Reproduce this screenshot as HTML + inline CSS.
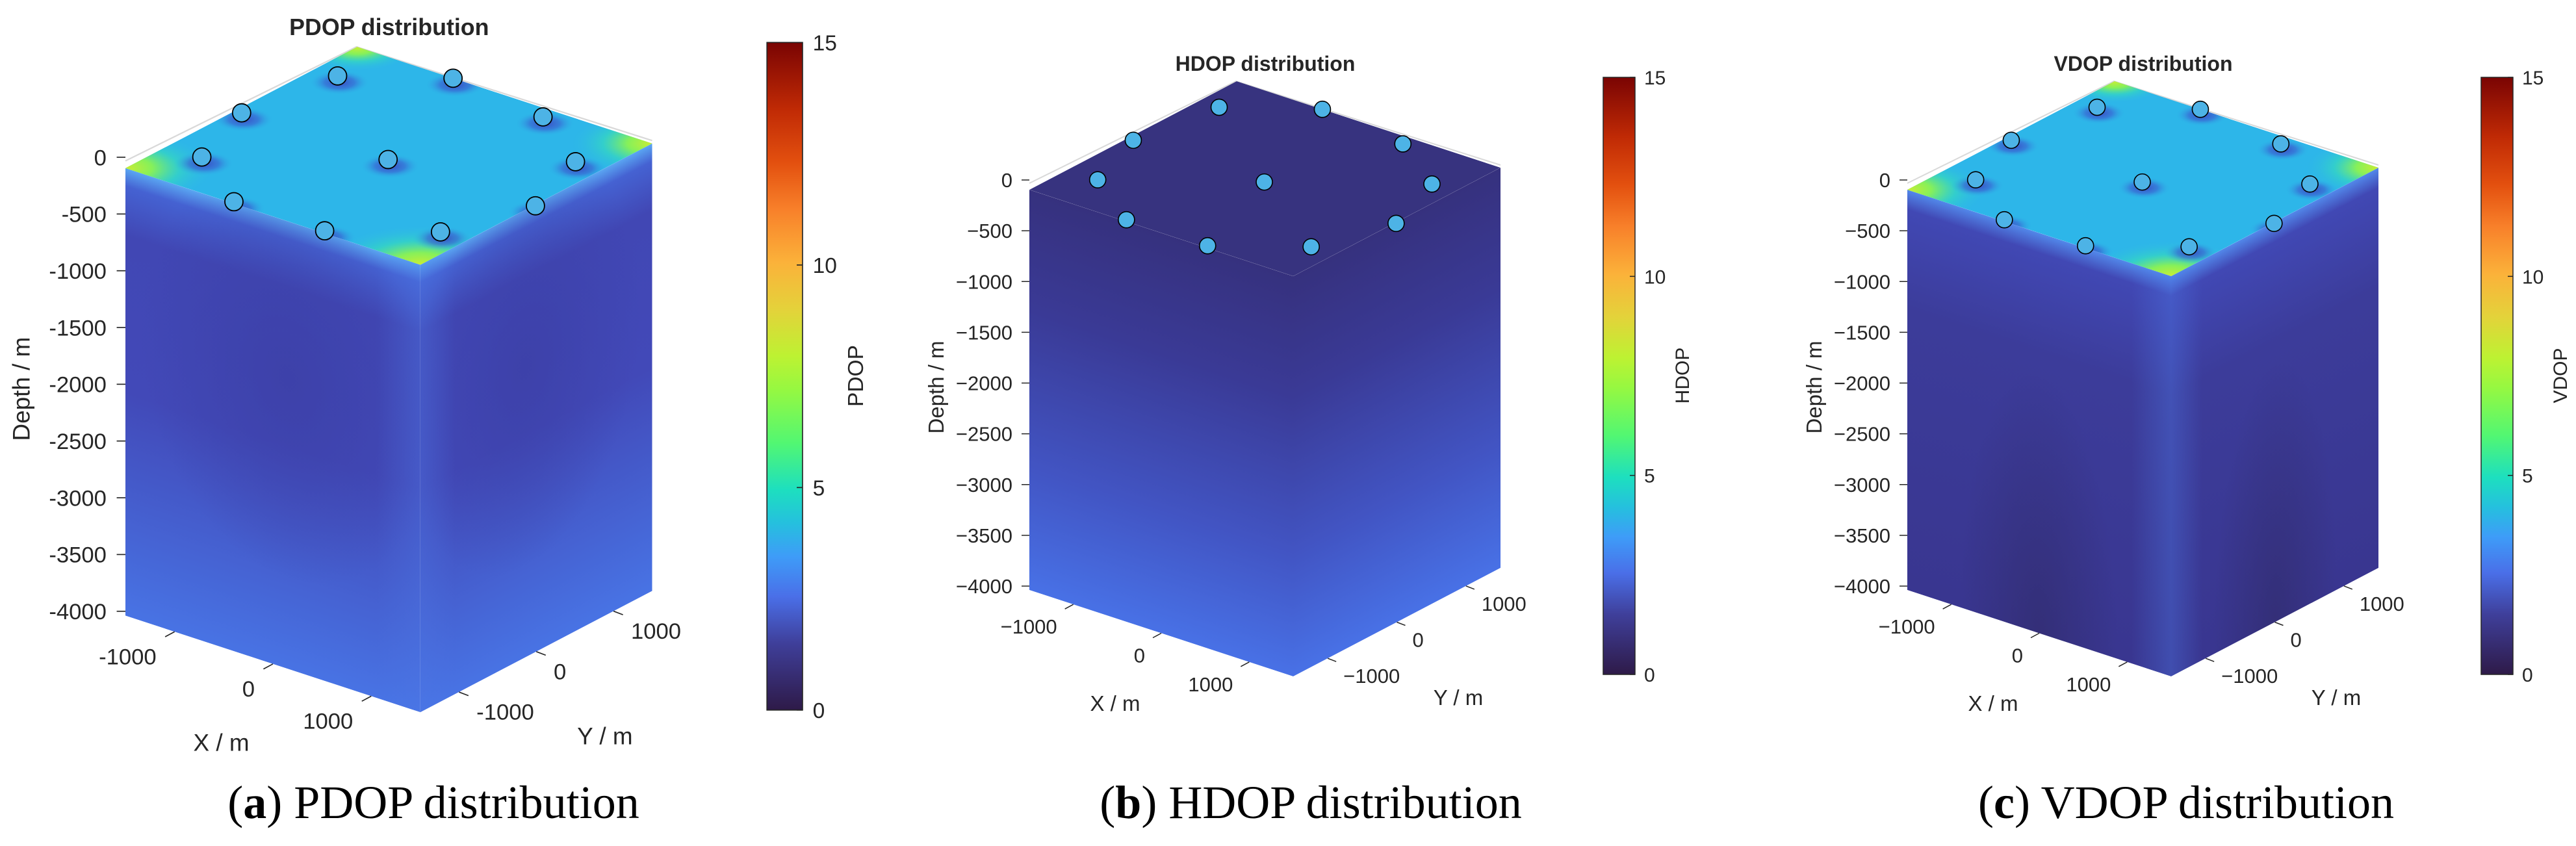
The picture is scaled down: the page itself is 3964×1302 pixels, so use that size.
<!DOCTYPE html>
<html>
<head>
<meta charset="utf-8">
<style>
html,body{margin:0;padding:0;background:#fff;width:3964px;height:1302px;overflow:hidden;}
#root{position:relative;width:3964px;height:1302px;overflow:hidden;background:#fff;}
svg text{font-family:"Liberation Sans",Arial,sans-serif;fill:#262626;}
.cap{position:absolute;top:1195px;line-height:80px;font-family:"Liberation Serif",serif;font-size:72px;color:#000;white-space:nowrap;transform:translateX(-50%);}
</style>
</head>
<body>
<div id="root">
<svg id="chart" width="3964" height="1302" viewBox="0 0 3964 1302" xmlns="http://www.w3.org/2000/svg" style="position:absolute;left:0;top:0;overflow:hidden"></svg>
<div class="cap" style="left:667px">(<b>a</b>) PDOP distribution</div>
<div class="cap" style="left:2017px">(<b>b</b>) HDOP distribution</div>
<div class="cap" style="left:3364px">(<b>c</b>) VDOP distribution</div>
</div>
<script>
// ---- data ----
const stationX = [-1275, -525, 500, -1434, -1155, 40, 1239, -420, 495, 1233, 1515];
const stationY = [960, 1500, 1360, -80, -950, -60, 840, -1470, -1460, -900, -30];
const depthTicks = [0, -500, -1000, -1500, -2000, -2500, -3000, -3500, -4000];
const xTicks = [-1000, 0, 1000];
const yTicks = [-1000, 0, 1000];
const cbTicks = [0, 5, 10, 15];
const cbMax = 15;
const panelNames = ['PDOP', 'HDOP', 'VDOP'];

const NS = 'http://www.w3.org/2000/svg';
const svg = document.getElementById('chart');
function mk(tag, attrs, parent) {
  const e = document.createElementNS(NS, tag);
  for (const k in attrs) e.setAttribute(k, attrs[k]);
  if (parent) parent.appendChild(e);
  return e;
}
const L = [0, 15], F = [406, 148], R = [725, -19], H = 616;
function uOf(X) { return (X + 1500) / 3000; }
function vOf(Y) { return (Y + 1500) / 3000; }
function proj(X, Y, D) {
  const u = uOf(X), v = vOf(Y);
  return [L[0] + u * (F[0] - L[0]) + v * (R[0] - F[0]),
          L[1] + u * (F[1] - L[1]) + v * (R[1] - F[1]) + (-D) / 4000 * H];
}
function depthY(d) { return (-d) / 4000 * 625; }

const defs = mk('defs', {}, svg);
const unitClip = mk('clipPath', {id: 'unitClip'}, defs);
mk('rect', {x: 0, y: 0, width: 100, height: 100}, unitClip);
const cbStops = [[0,'#2e1a48'],[0.1,'#3f3f9a'],[0.17,'#4a6fe8'],[0.23,'#3e9cf8'],[0.28,'#25c0de'],[0.33,'#1ddfbf'],[0.4,'#52f772'],[0.48,'#96f841'],[0.53,'#bdf232'],[0.6,'#e4d23a'],[0.67,'#fbb23a'],[0.75,'#f8802a'],[0.82,'#e3500f'],[0.9,'#c02a05'],[1,'#7a0403']];
function lin(id, stops, x1, y1, x2, y2) {
  const g = mk('linearGradient', {id: id, x1: x1, y1: y1, x2: x2, y2: y2}, defs);
  stops.forEach(s => mk('stop', {offset: s[0], 'stop-color': s[1], 'stop-opacity': s[2] === undefined ? 1 : s[2]}, g));
}
function rad(id, stops) {
  const g = mk('radialGradient', {id: id}, defs);
  stops.forEach(s => mk('stop', {offset: s[0], 'stop-color': s[1], 'stop-opacity': s[2] === undefined ? 1 : s[2]}, g));
}
lin('cbgrad', cbStops.map(s => [1 - s[0], s[1]]).reverse(), 0, 0, 0, 1);
rad('cornerG', [[0,'#c9ee34'],[0.3,'#86f05a'],[0.6,'#35d8c0',0.7],[1,'#2db6e9',0]]);
rad('spotG', [[0,'#3a48c0',0.95],[0.5,'#3a5ad0',0.6],[1,'#2db6e9',0]]);
rad('blobA', [[0,'#3b3ea4',0.7],[1,'#3b3ea4',0]]);
rad('archC', [[0,'#302a68',0.6],[1,'#302a68',0]]);
lin('sideA', [[0,'#5aa6f2'],[0.04,'#4562d2'],[0.15,'#4147b4'],[0.5,'#4249b8'],[1,'#4873e4']], 0, 0, 0, 1);
lin('sideB', [[0,'#36317e'],[0.3,'#3a3a96'],[0.7,'#4255c4'],[1,'#4871e6']], 0, 0, 0, 1);
lin('sideC', [[0,'#5288ea'],[0.05,'#4148b4'],[0.3,'#3c3c9a'],[1,'#393690']], 0, 0, 0, 1);
lin('frontEdge', [[0,'#4d7ae8',0],[0.85,'#4d7ae8',0],[1,'#4d7ae8',0.35]], 0, 0, 1, 0);
lin('frontEdgeR', [[0,'#4d7ae8',0.35],[0.15,'#4d7ae8',0],[1,'#4d7ae8',0]], 0, 0, 1, 0);

const panels = [
  {ox: 193, oy: 242, s: 1.118, mode: 'a', minus: '-'},
  {ox: 1584, oy: 277, s: 1, mode: 'b', minus: '\u2212'},
  {ox: 2935, oy: 277, s: 1, mode: 'c', minus: '\u2212'}
];
function fmt(v, m) { return v < 0 ? m + Math.abs(v) : String(v); }

panels.forEach((p, pi) => {
  const name = panelNames[pi];
  const g = mk('g', {transform: `translate(${p.ox},${p.oy}) scale(${p.s})`}, svg);
  
  

  const bx = mk('polyline', {points: `0,5 318,-152 725,-23`, fill: 'none', stroke: '#d9d9d9', 'stroke-width': 2}, g);
  
  

  const sideFill = p.mode === 'a' ? 'url(#sideA)' : p.mode === 'b' ? 'url(#sideB)' : 'url(#sideC)';
  const lf = mk('g', {transform: `matrix(4.06,1.33,0,${H/100},0,15)`}, g);
  
  
  const rf = mk('g', {transform: `matrix(3.19,-1.67,0,${H/100},406,148)`}, g);
  
  
  [lf, rf].forEach((f, fi) => {
    const fc = mk('g', {'clip-path': 'url(#unitClip)'}, f);
    mk('rect', {x: 0, y: 0, width: 100, height: 100, fill: sideFill}, fc);
    if (p.mode === 'a') {
      mk('ellipse', {cx: fi === 0 ? 55 : 45, cy: 35, rx: 50, ry: 45, fill: 'url(#blobA)'}, fc);
    }
    if (p.mode === 'c') {
      mk('ellipse', {cx: 50, cy: 100, rx: 30, ry: 65, fill: 'url(#archC)'}, fc);
    }
    if (p.mode !== 'b') mk('rect', {x: 0, y: 0, width: 100, height: 100, fill: fi === 0 ? 'url(#frontEdge)' : 'url(#frontEdgeR)'}, fc);
  });

  const tf = mk('g', {transform: `matrix(4.06,1.33,3.19,-1.67,0,15)`}, g);
  
  
  const tfi = mk('g', {'clip-path': 'url(#unitClip)'}, tf);
  if (p.mode === 'b') {
    mk('rect', {x: 0, y: 0, width: 100, height: 100, fill: '#37337f'}, tfi);
  } else {
    mk('rect', {x: 0, y: 0, width: 100, height: 100, fill: '#2db6e9'}, tfi);
    [[0,0,24],[100,0,26],[100,100,22],[0,100,16]].forEach(c => {
      mk('circle', {cx: c[0], cy: c[1], r: c[2], fill: 'url(#cornerG)'}, tfi);
    });
    stationX.forEach((sx, i) => {
      const u = uOf(sx) * 100, v = vOf(stationY[i]) * 100;
      const sp = mk('circle', {cx: u + 3, cy: v - 3, r: 8, fill: 'url(#spotG)'}, tfi);
      
      
    });
  }

  stationX.forEach((sx, i) => {
    const q = proj(sx, stationY[i], 0);
    const c = mk('circle', {cx: q[0], cy: q[1], r: 12.5, fill: '#4db3e6', stroke: '#000', 'stroke-width': 1.6}, g);
    
    
  });

  depthTicks.forEach(d => {
    const y = depthY(d);
    const t = mk('line', {x1: -12, y1: y, x2: 0, y2: y, stroke: '#262626', 'stroke-width': 1.5}, g);
    
    
    const tx = mk('text', {x: -26, y: y + 11, 'font-size': 31, 'text-anchor': 'end'}, g);
    tx.textContent = fmt(d, p.minus);
    
    
  });
  const dl = mk('text', {x: 0, y: 0, 'font-size': 33, 'text-anchor': 'middle', transform: `translate(-132,319) rotate(-90)`}, g);
  dl.textContent = 'Depth / m';
  
  

  xTicks.forEach(xv => {
    const q = proj(xv, -1500, -4000);
    const t = mk('line', {x1: q[0], y1: q[1], x2: q[0] - 13, y2: q[1] + 7, stroke: '#262626', 'stroke-width': 1.5}, g);
    
    
    const tx = mk('text', {x: q[0] - 25, y: q[1] + 45, 'font-size': 31, 'text-anchor': 'end'}, g);
    tx.textContent = fmt(xv, p.minus);
    
    
  });
  const xl = mk('text', {x: 132, y: 817, 'font-size': 33, 'text-anchor': 'middle'}, g);
  xl.textContent = 'X / m';
  
  

  yTicks.forEach(yv => {
    const q = proj(1500, yv, -4000);
    const t = mk('line', {x1: q[0], y1: q[1], x2: q[0] + 13, y2: q[1] + 5, stroke: '#262626', 'stroke-width': 1.5}, g);
    
    
    const tx = mk('text', {x: q[0] + 24, y: q[1] + 38, 'font-size': 31, 'text-anchor': 'start'}, g);
    tx.textContent = fmt(yv, p.minus);
    
    
  });
  const yl = mk('text', {x: 660, y: 808, 'font-size': 33, 'text-anchor': 'middle'}, g);
  yl.textContent = 'Y / m';
  
  

  const tt = mk('text', {x: 363, y: -168, 'font-size': 32, 'font-weight': 'bold', 'text-anchor': 'middle'}, g);
  tt.textContent = name + ' distribution';
  
  

  const cbTop = -158, cbBot = 761, cbX = 883, cbW = 49;
  const cb = mk('rect', {x: cbX, y: cbTop, width: cbW, height: cbBot - cbTop, fill: 'url(#cbgrad)', stroke: '#262626', 'stroke-width': 1.5}, g);
  
  
  cbTicks.forEach(v => {
    const y = cbBot - v / cbMax * (cbBot - cbTop);
    const t = mk('line', {x1: cbX + cbW - 8, y1: y, x2: cbX + cbW, y2: y, stroke: '#262626', 'stroke-width': 1.5}, g);
    
    
    const tx = mk('text', {x: cbX + cbW + 14, y: y + 11, 'font-size': 30}, g);
    tx.textContent = String(v);
    
    
  });
  const cl = mk('text', {x: 0, y: 0, 'font-size': 30, 'text-anchor': 'middle', transform: `translate(1015,301) rotate(-90)`}, g);
  cl.textContent = name;
  
  
});
</script>
</body>
</html>
